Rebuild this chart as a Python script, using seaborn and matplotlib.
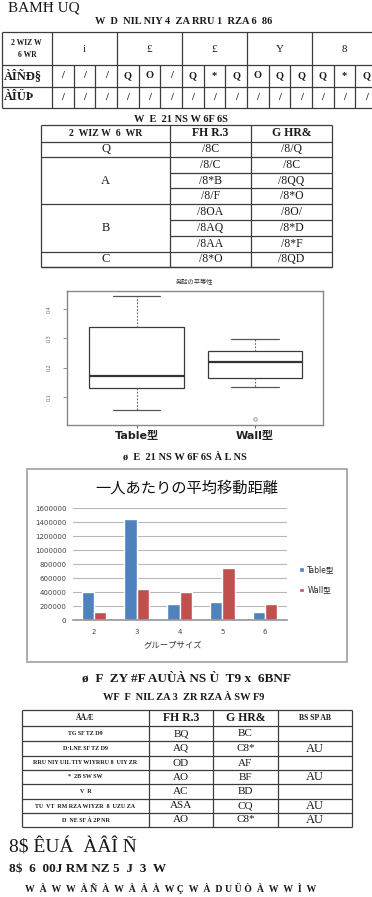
import numpy as np
import pandas as pd
import matplotlib
matplotlib.use("Agg")
import matplotlib.pyplot as plt
import seaborn as sns
from matplotlib.patches import Rectangle

# ---------------- data ----------------
heading = "BAMĦ UQ"
cap1 = "W  D  NIL NIY 4  ZA RRU 1  RZA 6  86"
t1_corner = ["2 WIZ W", "6 WR"]
t1_groups = ["i", "£", "£", "Y", "8"]
t1_row_labels = ["ÀÎÑÐ§", "ÀÎÜÞ"]
t1_row1 = ["/", "/", "/", "Q", "O", "/", "Q", "*", "Q", "O", "Q", "Q", "Q", "*", "Q"]
t1_row2 = ["/", "/", "/", "/", "/", "/", "/", "/", "/", "/", "/", "/", "/", "/", "/"]

cap2 = "W  E  21 NS W 6F 6S"
t2_header = ["2  WIZ W  6  WR", "FH R.3", "G HR&"]
t2_groups = ["Q", "A", "B", "C"]
t2_spans = [1, 3, 3, 1]
t2_col1 = ["/8C", "/8/C", "/8*B", "/8/F", "/8OA", "/8AQ", "/8AA", "/8*O"]
t2_col2 = ["/8/Q", "/8C", "/8QQ", "/8*O", "/8O/", "/8*D", "/8*F", "/8QD"]

box_title = "発話の平等性"
box_groups = ["Table型", "Wall型"]
table_eq = [0.057, 0.132, 0.172, 0.338, 0.445]
wall_eq = [0.024, 0.134, 0.165, 0.165, 0.219, 0.219, 0.258, 0.298, 0.298]
cap3 = "ø  E  21 NS W 6F 6S À L NS"

bar_title = "一人あたりの平均移動距離"
group_sizes = [2, 3, 4, 5, 6]
table_dist = [400000, 1445000, 225000, 255000, 115000]
wall_dist = [115000, 440000, 400000, 742000, 233000]
bar_xlabel = "グループサイズ"
cap4 = "ø  F  ZY #F AUÙÀ NS Ù  T9 x  6BNF"
cap5 = "WF  F  NIL ZA 3  ZR RZA À SW F9"

t3_header = ["ÄÅÆ", "FH R.3", "G HR&", "BS SP AB"]
t3_labels = ["TG SF TZ D9", "D·LNE SF TZ D9", "RRU NIY UIL TIY WIYRRU 8  UIY ZR",
             "*  2B SW SW", "V  R", "TU  VT  RM RZA WIYZR  8  UZU ZA", "D  NE SF À 2P NR"]
t3_c1 = ["BQ", "AQ", "OD", "AO", "AC", "ASA", "AO"]
t3_c2 = ["BC", "C8*", "AF", "BF", "BD", "CQ", "C8*"]
t3_c3 = ["", "AU", "", "AU", "", "AU", "AU"]

sec1 = "8$ ÊUÁ  ÀÂÎ Ñ"
sec2 = "8$  6  00J RM NZ 5  J  3  W"
sec3 = "W  À  W  W  À Ñ  À  W  À  À  À  W Ç  W  À  D U Ü Ò  À  W  W  Ì  W"

# ---------------- setup ----------------
sns.set_theme(style="white")
CJK = ["DejaVu Sans", "Noto Sans CJK JP"]
SERIF = ["Liberation Serif", "DejaVu Serif"]
plt.rcParams["font.family"] = CJK

W, H = 372, 897
fig = plt.figure(figsize=(W / 100, H / 100), dpi=100)
fig.patch.set_facecolor("white")
bg = fig.add_axes([0, 0, 1, 1])
bg.set_xlim(0, W)
bg.set_ylim(H, 0)
bg.axis("off")

LC = "#3c3c3c"
LW = 0.9


def px_rect(x0, y0, x1, y1):
    return [x0 / W, 1 - y1 / H, (x1 - x0) / W, (y1 - y0) / H]


def T(x, y, s, size, ha="center", weight="bold", family=SERIF, color="#1a1a1a", **kw):
    bg.text(x, y, s, fontsize=size, ha=ha, va="center", fontweight=weight,
            family=family, color=color, **kw)


def hl(y, x0, x1):
    bg.plot([x0, x1], [y, y], color=LC, lw=LW, solid_capstyle="butt")


def vl(x, y0, y1):
    bg.plot([x, x], [y0, y1], color=LC, lw=LW, solid_capstyle="butt")


# ---------------- heading & table 1 ----------------
T(8, 8, heading, 11, ha="left", weight="normal")
T(184, 22, cap1, 7.5)

x0, c1, gw = 2, 52, 65.0
xr = c1 + gw * 5
for y in [32, 65, 87, 108]:
    hl(y, x0, xr)
vl(x0, 32, 108)
vl(c1, 32, 108)
for k in range(1, 6):
    vl(c1 + gw * k, 32, 108)
for k in range(5):
    for j in (1, 2):
        vl(c1 + gw * k + gw / 3 * j, 65, 108)
T(26, 43, t1_corner[0], 5.5)
T(27, 55, t1_corner[1], 5.5)
for k, g in enumerate(t1_groups):
    T(c1 + gw * k + gw / 2, 50, g, 8, weight="normal")
T(4, 76, t1_row_labels[0], 9, ha="left")
T(4, 97.5, t1_row_labels[1], 9, ha="left")
for i, (a, b) in enumerate(zip(t1_row1, t1_row2)):
    cx = c1 + gw / 3 * (i + 0.5)
    T(cx, 76, a, 7.5)
    T(cx, 97.5, b, 7.5)

# ---------------- table 2 ----------------
T(181, 119, cap2, 7.5)
t2x = [41, 170, 251, 332]
t2y = [125, 142, 157, 173, 188, 204, 220, 236, 252, 267]
for y in [t2y[0], t2y[1], t2y[-1]]:
    hl(y, t2x[0], t2x[-1])
for x in t2x:
    vl(x, t2y[0], t2y[-1])
row = 0
for g, sp in zip(t2_groups, t2_spans):
    top, bot = t2y[1 + row], t2y[1 + row + sp]
    hl(bot, t2x[0], t2x[-1])
    for r in range(1, sp):
        hl(t2y[1 + row + r], t2x[1], t2x[-1])
    T((t2x[0] + t2x[1]) / 2, (top + bot) / 2, g, 9, weight="normal")
    row += sp
for i, h in enumerate(t2_header):
    T((t2x[i] + t2x[i + 1]) / 2, 133.5, h, 7 if i == 0 else 8.5)
for r, (a, b) in enumerate(zip(t2_col1, t2_col2)):
    cy = (t2y[1 + r] + t2y[2 + r]) / 2
    T((t2x[1] + t2x[2]) / 2, cy, a, 8.5, weight="normal")
    T((t2x[2] + t2x[3]) / 2, cy, b, 8.5, weight="normal")

# ---------------- boxplot ----------------
T(195, 282, box_title, 4.5, weight="normal", family=["Noto Sans CJK JP"], color="#333")
box_df = pd.DataFrame({
    "layout": [box_groups[0]] * len(table_eq) + [box_groups[1]] * len(wall_eq),
    "eq": table_eq + wall_eq,
})
axx = fig.add_axes(px_rect(67, 291, 323, 425))
sns.boxplot(data=box_df, x="layout", y="eq", order=box_groups, ax=axx,
            color="white", linecolor="#3a3a3a", linewidth=0.9, width=0.8, whis=1.5,
            whiskerprops=dict(linestyle=(0, (1.5, 1.5)), color="#666666", linewidth=0.8),
            capprops=dict(color="#555555", linewidth=0.9),
            medianprops=dict(linewidth=1.6, color="#333333"),
            flierprops=dict(marker="o", markersize=2.5, markerfacecolor="none",
                            markeredgecolor="#777777", markeredgewidth=0.5))
axx.set_xlim(-0.589, 1.575)
axx.set_ylim(0.0045, 0.461)
axx.set_yticks([0.1, 0.2, 0.3, 0.4])
axx.set_yticklabels(["0.1", "0.2", "0.3", "0.4"], rotation=90, va="center")
axx.tick_params(axis="y", labelsize=3.5, colors="#666666", length=3, width=0.5, pad=8, direction="out", left=True)
axx.tick_params(axis="x", labelsize=8, colors="#222222", length=2, width=0.5, pad=2, bottom=True)
for lab in axx.get_xticklabels():
    lab.set_fontweight("bold")
axx.set_xlabel("")
axx.set_ylabel("")
for s in axx.spines.values():
    s.set_color("#888888")
    s.set_linewidth(1.0)
T(185, 457, cap3, 7.5)

# ---------------- bar chart ----------------
BLUE, RED = "#4F81BD", "#C0504D"
bg.add_patch(Rectangle((27, 469), 320, 193, fill=False, ec="#a6a6a6", lw=1.3))
T(187, 488, bar_title, 11, weight="normal", family=["Noto Sans CJK JP"], color="#111111")
df_bar = pd.DataFrame({
    "size": group_sizes * 2,
    "dist": table_dist + wall_dist,
    "type": ["Table型"] * len(group_sizes) + ["Wall型"] * len(group_sizes),
})
axb = fig.add_axes(px_rect(72.5, 508.3, 286.5, 620))
sns.barplot(data=df_bar, x="size", y="dist", hue="type", palette=[BLUE, RED],
            width=0.575, saturation=1, ax=axb, errorbar=None)
axb.set_xlim(-0.5, 4.5)
axb.set_ylim(0, 1600000)
axb.set_yticks(range(0, 1600001, 200000))
axb.set_yticklabels([str(v) for v in range(0, 1600001, 200000)])
axb.yaxis.grid(True, color="#b8b8b8", lw=0.8)
axb.set_axisbelow(True)
for s in ["top", "right", "left"]:
    axb.spines[s].set_visible(False)
axb.spines["bottom"].set_color("#999999")
axb.tick_params(axis="y", labelsize=5, colors="#444444", length=0, pad=4.5)
axb.tick_params(axis="x", labelsize=5, colors="#444444", length=0, pad=6.5)
axb.set_ylabel("")
axb.set_xlabel(bar_xlabel, fontsize=6, color="#333333", family=["Noto Sans CJK JP"])
axb.xaxis.set_label_coords(0.47, -0.19)
handles, labels = axb.get_legend_handles_labels()
axb.legend(handles, labels, bbox_to_anchor=(299 / W, 1 - 580 / H), bbox_transform=fig.transFigure,
           loc="center left", frameon=False, fontsize=5.5, handlelength=0.6, handleheight=0.6,
           handletextpad=0.5, labelspacing=1.5, borderpad=0, borderaxespad=0)

# ---------------- table 3 ----------------
T(187, 678, cap4, 9.5)
T(184, 698, cap5, 7.5)
t3x = [22, 149, 213, 278, 352]
t3y = [710, 726, 741, 756, 770, 784, 799, 813, 827]
for y in t3y:
    hl(y, t3x[0], t3x[-1])
for x in t3x:
    vl(x, t3y[0], t3y[-1])
for i, h in enumerate(t3_header):
    T((t3x[i] + t3x[i + 1]) / 2, 718, h, 5.5 if i in (0, 3) else 8.5)
for r in range(len(t3_labels)):
    cy = (t3y[1 + r] + t3y[2 + r]) / 2
    T((t3x[0] + t3x[1]) / 2, cy, t3_labels[r], 4.3)
    T((t3x[1] + t3x[2]) / 2, cy, t3_c1[r], 8, weight="normal")
    T((t3x[2] + t3x[3]) / 2, cy, t3_c2[r], 8, weight="normal")
    T((t3x[3] + t3x[4]) / 2, cy, t3_c3[r], 9, weight="normal")

# ---------------- trailing text ----------------
T(9, 847, sec1, 14, ha="left", weight="normal")
T(9, 869, sec2, 9.5, ha="left")
T(25, 888, sec3, 7, ha="left")

fig.savefig("out.png", dpi=100, facecolor="white")
